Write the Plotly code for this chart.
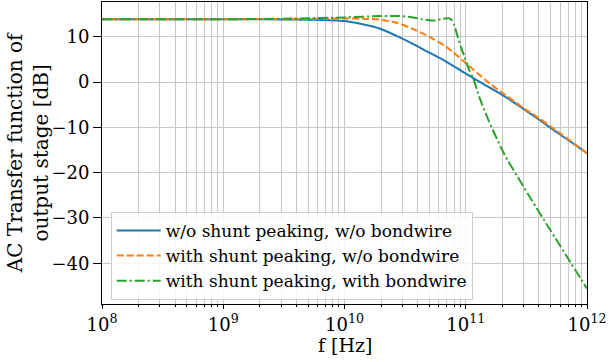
import plotly.graph_objects as go

# ---- data ----
f_blue = [1e8, 1e9, 3.16e9, 5.5e9, 1e10, 1.41e10, 1.95e10, 2.69e10, 3.63e10, 5.01e10,
          6.92e10, 9.33e10, 1.26e11, 2.14e11, 2.95e11, 3.98e11, 5.01e11, 7.08e11, 1e12]
db_blue = [13.9, 13.9, 13.85, 13.8, 13.5, 12.8, 11.85, 10.2, 8.5, 6.5,
           4.5, 2.4, 0.3, -3.3, -5.8, -8.2, -10.1, -12.9, -15.7]

f_orange = [1e8, 1e9, 3.16e9, 1e10, 1.41e10, 1.95e10, 2.69e10, 3.63e10, 5.01e10, 6.92e10,
            9.33e10, 1.26e11, 1.58e11, 2.14e11, 2.95e11, 3.98e11, 5.01e11, 7.08e11, 1e12]
db_orange = [13.9, 13.9, 13.95, 14.05, 14.0, 13.8, 13.1, 11.8, 10.0, 7.8,
             4.9, 1.9, -0.3, -2.9, -5.6, -7.9, -9.8, -12.7, -15.7]

f_green = [1e8, 1e9, 3.16e9, 6.31e9, 1e10, 2e10, 2.82e10, 3.63e10, 4.37e10, 5.01e10,
           5.62e10, 6.46e10, 7.24e10, 7.67e10, 8.04e10, 8.51e10, 9.12e10, 9.77e10, 1.07e11,
           1.15e11, 1.29e11, 1.55e11, 1.95e11, 2.21e11, 2.69e11, 3.24e11, 3.80e11, 4.27e11,
           5.5e11, 6.92e11, 1e12]
db_green = [13.9, 13.9, 14.0, 14.15, 14.3, 14.6, 14.6, 14.3, 13.9, 13.65,
            13.6, 14.0, 14.1, 13.7, 12.6, 10.4, 7.8, 5.6, 2.6,
            0.9, -3.2, -8.6, -14.4, -17.2, -21.0, -24.6, -27.6, -29.8,
            -34.5, -38.8, -45.6]

names = ["w/o shunt peaking, w/o bondwire",
         "with shunt peaking, w/o bondwire",
         "with shunt peaking, with bondwire"]

x_title = "f [Hz]"
y_title = "AC Transfer function of<br>output stage [dB]"

x_tickvals = [1e8, 1e9, 1e10, 1e11, 1e12]
x_ticktext = ["10<sup>8</sup>", "10<sup>9</sup>", "10<sup>10</sup>", "10<sup>11</sup>", "10<sup>12</sup>"]
x_minor = [k * 10 ** e for e in range(8, 12) for k in range(2, 10)]
y_tickvals = [-40, -30, -20, -10, 0, 10]

FONT = "DejaVu Serif"
GRID = "#c8c8c8"

fig = go.Figure()
fig.add_trace(go.Scatter(x=f_blue, y=db_blue, mode="lines", name=names[0],
                         line=dict(color="#1f77b4", width=2, shape="spline", smoothing=0.8)))
fig.add_trace(go.Scatter(x=f_orange, y=db_orange, mode="lines", name=names[1],
                         line=dict(color="#ff7f0e", width=2, dash="7px,3px", shape="spline", smoothing=0.8)))
fig.add_trace(go.Scatter(x=f_green, y=db_green, mode="lines", name=names[2],
                         line=dict(color="#2ca02c", width=2, dash="10px,3px,2px,3px", shape="spline", smoothing=0.6)))

fig.update_layout(
    width=609, height=362,
    margin=dict(l=102, r=22, t=2, b=58),
    paper_bgcolor="white", plot_bgcolor="white",
    font=dict(family=FONT, color="black", size=17),
    showlegend=True,
    legend=dict(x=0.018, y=0.305, xanchor="left", yanchor="top",
                bgcolor="rgba(255,255,255,0.85)", bordercolor="#cccccc", borderwidth=1,
                font=dict(family=FONT, size=17, color="black"),
                itemwidth=44),
)
fig.update_xaxes(
    type="log", range=[8, 12],
    tickvals=x_tickvals, ticktext=x_ticktext,
    ticks="outside", ticklen=4, tickcolor="black",
    showgrid=True, gridcolor=GRID, gridwidth=1,
    minor=dict(tickvals=x_minor, ticks="outside", ticklen=2, tickcolor="black",
               showgrid=True, gridcolor=GRID, gridwidth=1),
    showline=True, linecolor="black", linewidth=1, mirror=True,
    zeroline=False,
    tickfont=dict(family=FONT, size=18),
)
fig.update_yaxes(
    range=[-49, 17.7],
    tickvals=y_tickvals,
    ticks="outside", ticklen=8, tickcolor="black",
    showgrid=True, gridcolor=GRID, gridwidth=1,
    showline=True, linecolor="black", linewidth=1, mirror=True,
    zeroline=False,
    tickfont=dict(family=FONT, size=18),
)

# axis titles as annotations for precise placement
fig.add_annotation(text=x_title, xref="paper", yref="paper", x=0.5, y=-0.135,
                   xanchor="center", yanchor="middle", showarrow=False,
                   font=dict(family=FONT, size=19, color="black"))
fig.add_annotation(text=y_title, xref="paper", yref="paper", x=-0.152, y=0.5,
                   xanchor="center", yanchor="middle", showarrow=False, textangle=-90,
                   font=dict(family=FONT, size=20, color="black"))

fig.write_html("out.html")
